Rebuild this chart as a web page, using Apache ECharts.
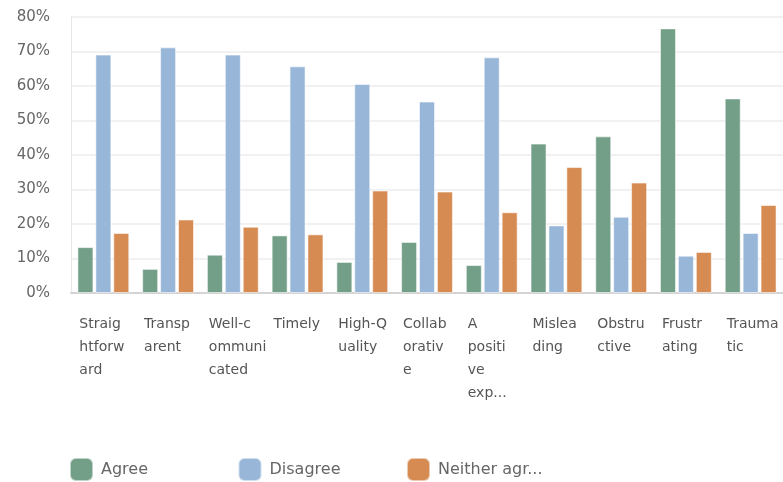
<!DOCTYPE html>
<html>
<head>
<meta charset="utf-8">
<style>
  html, body { margin: 0; padding: 0; background: #ffffff; }
  #chart { width: 783px; height: 482px; }
</style>
<script src="https://cdn.jsdelivr.net/npm/echarts@6/dist/echarts.min.js"></script>
</head>
<body>
<div id="chart"></div>
<script>
// Survey responses: share of respondents per statement (percent)
const categories = [
  'Straightforward', 'Transparent', 'Well-communicated', 'Timely', 'High-Quality',
  'Collaborative', 'A positive experience', 'Misleading', 'Obstructive', 'Frustrating', 'Traumatic'
];
const seriesNames = ['Agree', 'Disagree', 'Neither agree nor disagree'];
const agree    = [13.3, 7.0, 11.1, 16.7, 9.0, 14.8, 8.1, 43.3, 45.4, 76.7, 56.4];
const disagree = [69.1, 71.2, 69.1, 65.7, 60.6, 55.5, 68.3, 19.6, 22.1, 10.8, 17.4];
const neither  = [17.4, 21.3, 19.2, 17.0, 29.7, 29.4, 23.4, 36.5, 32.0, 11.9, 25.5];
const yTicks = [0, 10, 20, 30, 40, 50, 60, 70, 80];

const colors = ['#739f89', '#98b6d8', '#d68b52'];
const FONT = '"DejaVu Sans", sans-serif';

// Wrap a category name into fixed-size chunks, at most 4 lines
function wrapLabel(name) {
  const CH = 6, MAX_LINES = 4;
  const lines = [];
  name.split(' ').forEach(word => {
    for (let i = 0; i < word.length; i += CH) lines.push(word.slice(i, i + CH));
  });
  if (lines.length > MAX_LINES) {
    const kept = lines.slice(0, MAX_LINES);
    kept[MAX_LINES - 1] = kept[MAX_LINES - 1].slice(0, 3) + '...';
    return kept;
  }
  return lines;
}

// Shorten long legend names
function shortName(name) {
  return name.length > 11 ? name.slice(0, 11) + '...' : name;
}

const chart = echarts.init(document.getElementById('chart'), null, { renderer: 'canvas' });

const barSeries = [agree, disagree, neither].map((vals, i) => ({
  name: seriesNames[i],
  type: 'bar',
  data: vals,
  barWidth: 16,
  barGap: '12%',
  itemStyle: {
    color: colors[i],
    borderColor: 'rgba(255,255,255,0.55)',
    borderWidth: 1
  }
}));

// One legend block per series, laid out in equal-width slots
const LEGEND_LEFT = 69, LEGEND_SLOT = 168.5;
const legends = seriesNames.map((name, i) => ({
  left: LEGEND_LEFT + i * LEGEND_SLOT,
  top: 457,
  padding: 0,
  icon: 'roundRect',
  itemWidth: 23,
  itemHeight: 23,
  data: [name],
  formatter: shortName,
  textStyle: {
    fontFamily: FONT,
    fontSize: 16,
    color: '#666666',
    padding: [0, 0, 0, 3]
  }
}));

chart.setOption({
  animation: false,
  backgroundColor: '#ffffff',
  textStyle: { fontFamily: FONT },
  grid: { left: 71, top: 17, width: 714, height: 276, containLabel: false },
  legend: legends,
  xAxis: {
    type: 'category',
    data: categories,
    axisLine: { show: true, lineStyle: { color: '#d4d4d4', width: 2 } },
    axisTick: { show: false },
    splitLine: { show: false },
    axisLabel: {
      interval: 0,
      margin: 20,
      align: 'center',
      verticalAlign: 'top',
      formatter: name => wrapLabel(name).map(l => '{w|' + l + '}').join('\n'),
      rich: {
        w: {
          width: 48,
          align: 'left',
          fontFamily: FONT,
          fontSize: 14,
          lineHeight: 23,
          color: '#555555'
        }
      }
    }
  },
  yAxis: {
    type: 'value',
    min: yTicks[0],
    max: yTicks[yTicks.length - 1],
    interval: yTicks[1] - yTicks[0],
    axisLine: { show: true, lineStyle: { color: '#e6e6e6', width: 1 } },
    axisTick: { show: false },
    splitLine: { show: true, lineStyle: { color: '#ededed', width: 1.5 } },
    axisLabel: {
      margin: 21,
      fontFamily: FONT,
      fontSize: 15,
      color: '#666666',
      formatter: v => v + '%'
    }
  },
  series: barSeries
});
</script>
</body>
</html>
